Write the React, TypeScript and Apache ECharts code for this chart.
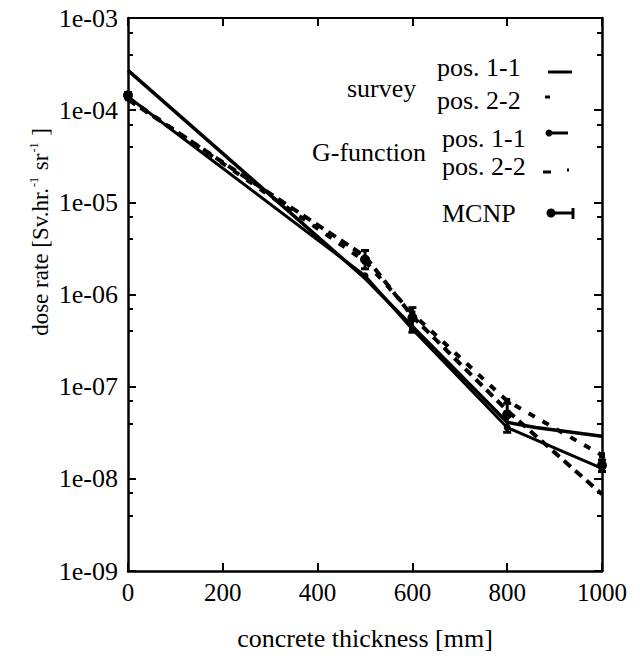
import React, { useEffect, useRef } from "react";
import * as echarts from "echarts";

const xTicks = [0, 200, 400, 600, 800, 1000];
const yTickLabels = ["1e-09", "1e-08", "1e-07", "1e-06", "1e-05", "1e-04", "1e-03"];

const survey11X = [0, 500, 600, 800, 860, 1000];
const survey11Y = [2.7e-4, 1.5e-6, 4.5e-7, 4.1e-8, 3.6e-8, 2.9e-8];

const survey22X = [0, 500, 600, 800, 1000];
const survey22Y = [1.3e-4, 2.6e-6, 5.8e-7, 5.5e-8, 6.8e-9];

const gfun11X = [0, 500, 600, 800, 1000];
const gfun11Y = [1.4e-4, 1.6e-6, 4.2e-7, 3.6e-8, 1.3e-8];

const gfun22X = [0, 500, 600, 800, 1000];
const gfun22Y = [1.35e-4, 2.3e-6, 6.2e-7, 7.0e-8, 1.8e-8];

const mcnpX = [0, 500, 600, 800, 1000];
const mcnpY = [1.45e-4, 2.4e-6, 5.6e-7, 5.0e-8, 1.4e-8];
const mcnpLow = [1.35e-4, 1.9e-6, 3.9e-7, 3.2e-8, 1.2e-8];
const mcnpHigh = [1.55e-4, 3.0e-6, 7.2e-7, 6.6e-8, 1.6e-8];

const FONT = "Liberation Serif";

function pairs(xs: number[], ys: number[]) {
  return xs.map((x, i) => [x, ys[i]]);
}

export default function App() {
  const ref = useRef<HTMLDivElement>(null);
  useEffect(() => {
    document.body.style.margin = "0";
    if (!ref.current) return;
    const chart = echarts.init(ref.current, null, { renderer: "svg" });
    const lineBase = { type: "line", showSymbol: false, symbol: "none", silent: true, z: 3 };
    const legendText = (text: string, x: number, y: number) => ({
      type: "text",
      x,
      y,
      style: { text, fontFamily: FONT, fontSize: 26, fill: "#000", textAlign: "left", textVerticalAlign: "middle" },
    });
    const seg = (x1: number, y1: number, x2: number, y2: number, lw = 3) => ({
      type: "line",
      shape: { x1, y1, x2, y2 },
      style: { stroke: "#000", lineWidth: lw },
    });
    chart.setOption({
      animation: false,
      backgroundColor: "#fff",
      textStyle: { fontFamily: FONT },
      grid: { left: 128, right: 38, top: 18, bottom: 91, containLabel: false },
      xAxis: [
        {
          type: "value",
          min: 0,
          max: 1000,
          interval: 200,
          axisLine: { show: true, onZero: false, lineStyle: { color: "#000", width: 2.5 } },
          axisTick: { show: true, inside: true, length: 8, lineStyle: { color: "#000", width: 2 } },
          axisLabel: {
            margin: 9,
            fontFamily: FONT,
            fontSize: 25,
            color: "#000",
            formatter: (v: number) => String(xTicks[xTicks.indexOf(v)] ?? v),
          },
          splitLine: { show: false },
          name: "concrete thickness [mm]",
          nameLocation: "middle",
          nameGap: 54,
          nameTextStyle: { fontFamily: FONT, fontSize: 26, color: "#000" },
        },
        {
          type: "value",
          position: "top",
          min: 0,
          max: 1000,
          interval: 200,
          axisLine: { show: true, onZero: false, lineStyle: { color: "#000", width: 2 } },
          axisTick: { show: true, inside: true, length: 8, lineStyle: { color: "#000", width: 2 } },
          axisLabel: { show: false },
          splitLine: { show: false },
        },
      ],
      yAxis: [
        {
          type: "log",
          logBase: 10,
          min: 1e-9,
          max: 1e-3,
          axisLine: { show: true, onZero: false, lineStyle: { color: "#000", width: 2.5 } },
          axisTick: { show: true, inside: true, length: 8, lineStyle: { color: "#000", width: 2 } },
          minorTick: { show: true, splitNumber: 3, length: 5, lineStyle: { color: "#000", width: 2 } },
          axisLabel: {
            margin: 10,
            fontFamily: FONT,
            fontSize: 26,
            color: "#000",
            formatter: (v: number) => {
              const idx = Math.round(Math.log10(v)) + 9;
              return yTickLabels[idx] ?? "";
            },
          },
          splitLine: { show: false },
        },
        {
          type: "log",
          logBase: 10,
          min: 1e-9,
          max: 1e-3,
          position: "right",
          axisLine: { show: true, onZero: false, lineStyle: { color: "#000", width: 2.5 } },
          axisTick: { show: true, inside: true, length: 8, lineStyle: { color: "#000", width: 2 } },
          minorTick: { show: true, splitNumber: 3, length: 5, lineStyle: { color: "#000", width: 2 } },
          axisLabel: { show: false },
          splitLine: { show: false },
        },
      ],
      series: [
        {
          ...lineBase,
          name: "survey pos. 1-1",
          data: pairs(survey11X, survey11Y),
          lineStyle: { color: "#000", width: 3.5 },
        },
        {
          ...lineBase,
          name: "survey pos. 2-2",
          data: pairs(survey22X, survey22Y),
          lineStyle: { color: "#000", width: 4, type: [9, 6] },
        },
        {
          ...lineBase,
          name: "G-function pos. 1-1",
          data: pairs(gfun11X, gfun11Y),
          showSymbol: true,
          symbol: "circle",
          symbolSize: 7,
          itemStyle: { color: "#000" },
          lineStyle: { color: "#000", width: 3 },
        },
        {
          ...lineBase,
          name: "G-function pos. 2-2",
          data: pairs(gfun22X, gfun22Y),
          showSymbol: true,
          symbol: "rect",
          symbolSize: 6,
          itemStyle: { color: "#000" },
          lineStyle: { color: "#000", width: 4, type: [7, 9] },
        },
        {
          type: "custom",
          name: "MCNP",
          silent: true,
          z: 4,
          data: mcnpX.map((x, i) => [x, mcnpY[i], mcnpLow[i], mcnpHigh[i]]),
          renderItem: (params: any, api: any) => {
            const x = api.value(0);
            const c = api.coord([x, api.value(1)]);
            const lo = api.coord([x, api.value(2)]);
            const hi = api.coord([x, api.value(3)]);
            const cap = 4;
            return {
              type: "group",
              children: [
                { type: "line", shape: { x1: lo[0], y1: lo[1], x2: hi[0], y2: hi[1] }, style: { stroke: "#000", lineWidth: 3 } },
                { type: "line", shape: { x1: lo[0] - cap, y1: lo[1], x2: lo[0] + cap, y2: lo[1] }, style: { stroke: "#000", lineWidth: 3 } },
                { type: "line", shape: { x1: hi[0] - cap, y1: hi[1], x2: hi[0] + cap, y2: hi[1] }, style: { stroke: "#000", lineWidth: 3 } },
                { type: "circle", shape: { cx: c[0], cy: c[1], r: 5 }, style: { fill: "#000" } },
              ],
            };
          },
        },
      ],
      graphic: [
        {
          type: "text",
          x: 40,
          y: 232,
          rotation: Math.PI / 2,
          style: {
            text: "{a|dose rate [Sv.hr.}{s|-1}{a| sr}{s|-1}{a| ]}",
            rich: {
              a: { fontFamily: FONT, fontSize: 23, fill: "#000", verticalAlign: "bottom" },
              s: { fontFamily: FONT, fontSize: 12, fill: "#000", verticalAlign: "top", padding: [0, 1, 12, 1] },
            },
            textAlign: "center",
            textVerticalAlign: "middle",
          },
        },
        legendText("pos. 1-1", 437, 67),
        legendText("survey", 347, 88),
        legendText("pos. 2-2", 437, 100),
        legendText("pos. 1-1", 442, 138),
        legendText("G-function", 312, 152),
        legendText("pos. 2-2", 442, 166),
        legendText("MCNP", 442, 213),
        seg(548, 72, 572, 72),
        seg(545, 97, 550, 97),
        seg(546, 133, 568, 133),
        { type: "circle", shape: { cx: 549, cy: 133, r: 3.5 }, style: { fill: "#000" } },
        seg(543, 172, 551, 172),
        seg(567, 170, 569, 170),
        seg(548, 213, 573, 213),
        seg(573, 208, 573, 219),
        { type: "circle", shape: { cx: 551, cy: 213, r: 4.5 }, style: { fill: "#000" } },
      ],
    });
    return () => chart.dispose();
  }, []);
  return <div ref={ref} style={{ width: 640, height: 662 }} />;
}
